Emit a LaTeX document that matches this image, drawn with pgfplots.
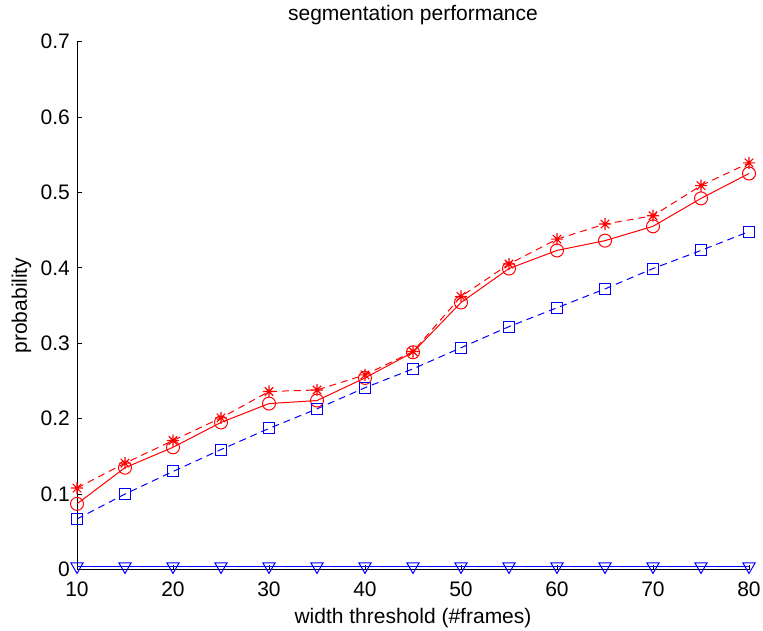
\documentclass[border=0pt]{standalone}
\usepackage{fontspec}
\setmainfont{Liberation Sans}
\usepackage{pgfplots}
\pgfplotsset{compat=1.18}

% MATLAB-style '*' marker: plus and cross together
\pgfdeclareplotmark{mstar}{%
  \pgfpathmoveto{\pgfpoint{0pt}{\pgfplotmarksize}}%
  \pgfpathlineto{\pgfpoint{0pt}{-\pgfplotmarksize}}%
  \pgfpathmoveto{\pgfpoint{\pgfplotmarksize}{0pt}}%
  \pgfpathlineto{\pgfpoint{-\pgfplotmarksize}{0pt}}%
  \pgfpathmoveto{\pgfpoint{0.707\pgfplotmarksize}{0.707\pgfplotmarksize}}%
  \pgfpathlineto{\pgfpoint{-0.707\pgfplotmarksize}{-0.707\pgfplotmarksize}}%
  \pgfpathmoveto{\pgfpoint{-0.707\pgfplotmarksize}{0.707\pgfplotmarksize}}%
  \pgfpathlineto{\pgfpoint{0.707\pgfplotmarksize}{-0.707\pgfplotmarksize}}%
  \pgfusepathqstroke
}

\begin{document}
\begin{tikzpicture}
\path[use as bounding box] (-77pt,-60.5pt) rectangle (686pt,569.5pt);
\begin{axis}[
    at={(0,0)}, anchor=south west,
    scale only axis,
    width=672pt, height=528pt,
    xmin=10, xmax=80,
    ymin=0, ymax=0.7,
    xtick={10,20,...,80},
    ytick={0,0.1,...,0.7},
    axis x line*=bottom,
    axis y line*=left,
    axis line style={-, line width=0.9pt},
    tick align=inside,
    major tick length=5pt,
    tick style={black, line width=0.8pt},
    clip=false,
    font=\fontsize{21}{25}\selectfont,
    /pgf/number format/assume math mode=true,
    /pgf/number format/fixed,
    xticklabel style={anchor=base, inner sep=0pt, yshift=-27pt},
    yticklabel style={anchor=east, inner sep=0pt, xshift=-7pt},
    title={segmentation performance},
    title style={at={(axis description cs:0.5,1.029)}, anchor=base, inner sep=0pt},
    xlabel={width threshold (\#frames)},
    xlabel style={at={(axis description cs:0.5,-0.1032)}, anchor=base, inner sep=0pt},
    ylabel={probability},
    ylabel style={at={(axis description cs:-0.0744,0.5)}, anchor=base, inner sep=0pt},
]

% red dashed, asterisks
\addplot[red, line width=1pt, dash pattern=on 7pt off 5pt, mark=mstar, mark size=6pt, mark options={solid, line width=1.1pt}] coordinates {
    (10,0.108) (15,0.141) (20,0.171) (25,0.201) (30,0.236) (35,0.238) (40,0.258) (45,0.289)
    (50,0.362) (55,0.405) (60,0.438) (65,0.458) (70,0.469) (75,0.509) (80,0.539)
};

% red solid, circles
\addplot[red, line width=1pt, mark=o, mark size=6.5pt] coordinates {
    (10,0.087) (15,0.135) (20,0.162) (25,0.195) (30,0.220) (35,0.224) (40,0.254) (45,0.288)
    (50,0.354) (55,0.399) (60,0.423) (65,0.436) (70,0.455) (75,0.492) (80,0.525)
};

% blue dashed, squares
\addplot[blue, line width=1pt, dash pattern=on 7pt off 5pt, mark=square, mark size=5.5pt, mark options={solid}] coordinates {
    (10,0.067) (15,0.100) (20,0.130) (25,0.159) (30,0.187) (35,0.213) (40,0.241) (45,0.266)
    (50,0.294) (55,0.322) (60,0.347) (65,0.372) (70,0.399) (75,0.423) (80,0.448)
};

% blue solid, down triangles near zero
\addplot[blue, line width=1pt, mark=triangle, mark size=7pt, mark options={rotate=180}] coordinates {
    (10,0.004) (15,0.004) (20,0.004) (25,0.004) (30,0.004) (35,0.004) (40,0.004) (45,0.004)
    (50,0.004) (55,0.004) (60,0.004) (65,0.004) (70,0.004) (75,0.004) (80,0.004)
};

\end{axis}
\end{tikzpicture}
\end{document}
